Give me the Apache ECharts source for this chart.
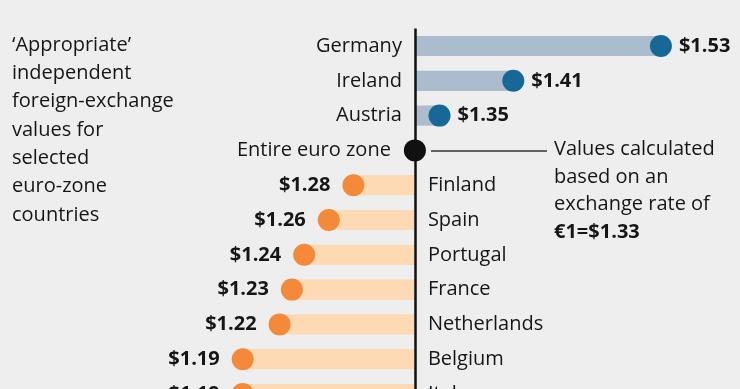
<!DOCTYPE html>
<html>
<head>
<meta charset="utf-8">
<script src="https://cdn.jsdelivr.net/npm/echarts@6/dist/echarts.min.js"></script>
<style>
html,body{margin:0;padding:0;background:#eeeeee;}
#chart{width:740px;height:389px;}
</style>
</head>
<body>
<div id="chart"></div>
<script>
// ---- data ----
const countries = ['Germany', 'Ireland', 'Austria', 'Entire euro zone', 'Finland', 'Spain', 'Portugal', 'France', 'Netherlands', 'Belgium', 'Italy'];
const values = [1.53, 1.41, 1.35, 1.33, 1.28, 1.26, 1.24, 1.23, 1.22, 1.19, 1.19];
const euroRate = 1.33;
const sideNote = ['\u2018Appropriate\u2019', 'independent', 'foreign-exchange', 'values for', 'selected', 'euro-zone', 'countries'];
const rateNote = ['Values calculated', 'based on an', 'exchange rate of'];
const rateText = '\u20ac1=$1.33';

// ---- styles ----
const FONT = 'Open Sans';
const TXT = '#161616';
const BLUE_BAR = '#aabccd';
const BLUE_DOT = '#176797';
const ORANGE_BAR = '#fdd9b4';
const ORANGE_DOT = '#f5893a';

const chart = echarts.init(document.getElementById('chart'));

const barData = values.map((v, i) => [v, i]);
const dotData = values.map((v, i) => {
  const above = v > euroRate, equal = v === euroRate;
  return {
    value: [v, i],
    symbolSize: 22,
    itemStyle: { color: equal ? '#111111' : (above ? BLUE_DOT : ORANGE_DOT), opacity: 1 },
    label: {
      show: !equal,
      position: above ? 'right' : 'left',
      distance: above ? 7 : 12
    }
  };
});
const nameData = countries.map((c, i) => {
  const v = values[i];
  const left = v >= euroRate;
  return {
    value: [euroRate, i],
    label: {
      position: left ? 'left' : 'right',
      distance: v === euroRate ? 24 : 13
    }
  };
});

chart.setOption({
  backgroundColor: '#eeeeee',
  animation: false,
  grid: { left: 9, width: 738, top: 28.6, height: 382.8, outerBoundsMode: 'none', containLabel: false },
  xAxis: { type: 'value', min: 1.0, max: 1.6, show: false },
  yAxis: { type: 'category', data: countries, inverse: true, show: false },
  series: [
    {
      type: 'custom',
      data: barData,
      encode: { x: 0, y: 1 },
      z: 1,
      clip: false,
      renderItem: function (params, api) {
        const v = api.value(0), i = api.value(1);
        const p0 = api.coord([euroRate, i]);
        const p1 = api.coord([v, i]);
        const h = api.size([0, 1])[1] * 0.58;
        return {
          type: 'rect',
          shape: { x: Math.min(p0[0], p1[0]), y: p0[1] - h / 2, width: Math.abs(p1[0] - p0[0]), height: h },
          style: { fill: v > euroRate ? BLUE_BAR : ORANGE_BAR }
        };
      }
    },
    {
      type: 'scatter',
      data: nameData,
      symbolSize: 0,
      z: 2,
      itemStyle: { opacity: 1 },
      label: {
        show: true,
        formatter: p => countries[p.value[1]],
        fontFamily: FONT, fontSize: 20, color: TXT
      },
      markLine: {
        silent: true,
        symbol: 'none',
        label: { show: false },
        lineStyle: { color: '#111111', width: 2.5, type: 'solid', opacity: 1 },
        data: [{ xAxis: euroRate }]
      }
    },
    {
      type: 'scatter',
      data: dotData,
      z: 5,
      itemStyle: { opacity: 1 },
      label: {
        formatter: p => '$' + p.value[0].toFixed(2),
        fontFamily: FONT, fontSize: 20, fontWeight: 'bold', color: TXT
      }
    }
  ],
  graphic: [
    {
      type: 'text', left: 12, top: 31,
      style: { text: sideNote.join('\n'), font: '20px "Open Sans"', fill: TXT, lineHeight: 28.3 }
    },
    {
      type: 'line',
      shape: { x1: 431, y1: 151, x2: 547, y2: 151 },
      style: { stroke: '#333333', lineWidth: 1.5 }
    },
    {
      type: 'text', left: 554, top: 136,
      style: {
        text: rateNote.join('\n') + '\n{b|' + rateText + '}',
        font: '20px "Open Sans"', fill: TXT, lineHeight: 27.5,
        rich: { b: { fontFamily: FONT, fontSize: 20, fontWeight: 'bold', fill: TXT, lineHeight: 27.5 } }
      }
    }
  ]
});
</script>
</body>
</html>
